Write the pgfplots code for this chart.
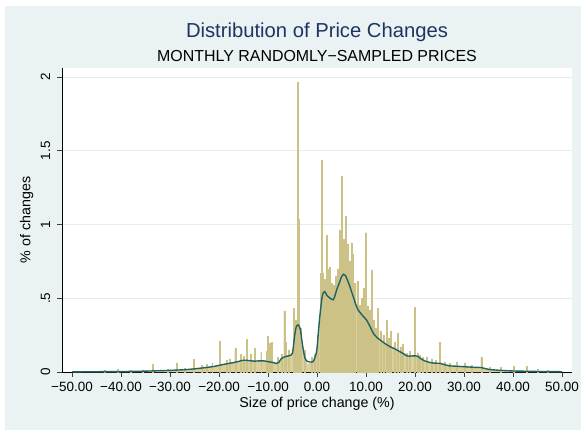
\documentclass[border=0pt]{standalone}
\usepackage{fontspec}
\setmainfont{Liberation Sans}
\usepackage{pgfplots}
\pgfplotsset{compat=1.18}
\definecolor{bgc}{RGB}{234,242,243}
\definecolor{gridc}{RGB}{228,238,239}
\definecolor{barc}{RGB}{217,208,158}
\definecolor{spkd}{RGB}{204,193,135}
\definecolor{dens}{RGB}{31,98,100}
\definecolor{titc}{RGB}{30,52,98}
\begin{document}
\begin{tikzpicture}[x=1bp,y=1bp]
\fill[white] (0,0) rectangle (581,429);
\fill[bgc] (5,-10) rectangle (600,422.5);
\node[anchor=base, text=titc, inner sep=0pt, font=\fontsize{20.3}{24}\selectfont] at (317,391) {Distribution of Price Changes};
\node[anchor=base, inner sep=0pt, font=\fontsize{16}{19}\selectfont] at (317,368) {MONTHLY RANDOMLY−SAMPLED PRICES};
\begin{axis}[
  at={(62bp,57bp)}, anchor=south west, scale only axis,
  width=510bp, height=304bp,
  xmin=-52.04, xmax=52.04, ymin=0, ymax=2.062,
  axis background/.style={fill=white},
  axis x line*=bottom, axis y line*=left,
  axis line style={black, line width=0.8pt, -},
  tick align=outside, major tick length=5bp,
  tick style={black!75, line width=0.8pt},
  xtick={-50,-40,-30,-20,-10,0,10,20,30,40,50},
  xticklabels={−50.00,−40.00,−30.00,−20.00,−10.00,0.00,10.00,20.00,30.00,40.00,50.00},
  ytick={0,0.5,1,1.5,2},
  yticklabels={0,.5,1,1.5,2},
  ymajorgrids, grid style={gridc, line width=0.8pt},
  xticklabel style={font=\fontsize{13.5}{16}\selectfont, inner sep=0pt, anchor=base, yshift=-14.7bp},
  yticklabel style={font=\fontsize{13.5}{16}\selectfont, inner sep=0pt, xshift=-7bp, rotate=90, anchor=base},
  xlabel={Size of price change (\%)},
  ylabel={\% of changes},
  every axis x label/.style={at={(axis description cs:0.5,-0.1174)}, anchor=base, inner sep=0pt, font=\fontsize{14.3}{17}\selectfont},
  every axis y label/.style={at={(axis description cs:-0.0618,0.5)}, rotate=90, anchor=base, inner sep=0pt, font=\fontsize{14.3}{17}\selectfont},
]
% histogram body
\addplot[fill=barc, draw=none] table {
x y
-50 0
-48 0.002
-44 0.003
-40 0.004
-36 0.006
-34 0.008
-32 0.010
-30 0.012
-28 0.015
-26 0.020
-25 0.024
-24 0.028
-23 0.030
-22 0.035
-21 0.040
-20 0.048
-19 0.055
-18 0.060
-17 0.066
-16 0.072
-15 0.082
-14 0.080
-13 0.078
-12 0.080
-11 0.078
-10 0.072
-9 0.068
-8.5 0.062
-8 0.060
-7.5 0.070
-7 0.095
-6.5 0.110
-6 0.110
-5.5 0.115
-5 0.120
-4.6 0.200
-4.3 0.300
-4.0 0.340
-3.7 0.330
-3.4 0.280
-3.1 0.200
-2.8 0.130
-2.5 0.085
-2.2 0.065
-1.8 0.055
-1.4 0.060
-1.0 0.065
-0.6 0.070
-0.3 0.100
0 0.160
0.3 0.300
0.6 0.420
0.9 0.500
1.2 0.560
1.5 0.550
1.8 0.530
2.1 0.550
2.4 0.500
2.7 0.520
3.0 0.490
3.3 0.500
3.6 0.530
3.9 0.560
4.2 0.600
4.5 0.620
4.8 0.660
5.1 0.670
5.4 0.690
5.7 0.660
6.0 0.640
6.3 0.620
6.6 0.600
6.9 0.570
7.2 0.530
7.5 0.520
7.8 0.470
8.1 0.450
8.4 0.430
8.7 0.420
9.0 0.410
9.3 0.390
9.6 0.380
9.9 0.370
10.3 0.350
10.7 0.330
11.1 0.300
11.5 0.270
12 0.250
12.5 0.230
13 0.220
13.5 0.200
14 0.195
14.5 0.185
15 0.175
15.5 0.165
16 0.160
16.5 0.150
17 0.140
17.5 0.130
18 0.115
18.5 0.110
19 0.110
19.5 0.112
20 0.115
20.5 0.105
21 0.095
21.5 0.085
22 0.078
23 0.068
24 0.062
25 0.060
26 0.052
27 0.045
28 0.042
30 0.038
32 0.033
34 0.028
35 0.020
37 0.013
40 0.008
43 0.006
46 0.004
50 0.002
50.1 0
} \closedcycle;
% individual spikes
\addplot[ybar, bar width=0.2, fill=barc, draw=spkd, line width=0.3pt] table {
x y
-43.3 0.012
-40.6 0.022
-38 0.010
-35.5 0.012
-33.5 0.054
-30.5 0.020
-28.6 0.063
-27 0.025
-25.1 0.086
-23.5 0.045
-22.5 0.050
-21.4 0.060
-19.9 0.206
-18.5 0.080
-17.8 0.090
-16.7 0.165
-15.6 0.120
-14.9 0.110
-14.35 0.220
-13.5 0.120
-12.65 0.160
-11.4 0.138
-10.3 0.140
-10.07 0.244
-9.6 0.195
-9.25 0.200
-8.0 0.100
-7.3 0.120
-6.7 0.416
-6.4 0.200
-5.8 0.150
-4.76 0.432
-4.3 0.350
-3.88 1.963
-3.65 1.038
-3.3 0.300
-2.6 0.150
-1.1 0.100
-0.4 0.120
0.2 0.250
0.75 0.670
0.95 1.434
1.16 0.670
1.5 0.630
1.97 0.930
2.2 0.700
2.65 0.714
3.0 0.600
3.47 0.590
3.9 0.650
4.3 0.700
4.7 0.963
4.83 0.800
5.04 1.330
5.25 0.880
5.45 0.900
5.92 1.054
6.26 0.870
6.6 0.750
7.07 0.877
7.3 0.800
7.7 0.600
8.2 0.613
8.7 0.454
9.1 0.500
9.46 0.567
9.93 0.945
10.4 0.450
10.8 0.420
11.16 0.692
11.6 0.350
12.0 0.300
12.45 0.430
12.9 0.280
13.5 0.250
14.2 0.353
14.6 0.230
15.1 0.280
15.8 0.200
16.55 0.262
17.05 0.170
17.55 0.190
18.2 0.130
19.0 0.140
20.0 0.440
20.6 0.130
21.0 0.115
21.6 0.100
22.3 0.100
23.4 0.090
24.2 0.080
25.1 0.200
26 0.070
27 0.060
28.5 0.068
30.1 0.063
31.5 0.045
33.5 0.100
35.3 0.036
37.5 0.030
40.2 0.040
42.7 0.040
45 0.020
47 0.015
};
% kernel density
\addplot[dens, line width=1.4pt, smooth, tension=0.35] table {
x y
-50 0.001
-45 0.002
-40 0.003
-35 0.006
-32 0.009
-30 0.011
-28 0.014
-26 0.018
-24 0.025
-22 0.033
-21 0.038
-20 0.045
-19 0.052
-18 0.058
-17 0.064
-16 0.072
-15 0.080
-14 0.078
-13 0.074
-12 0.075
-11 0.076
-10 0.070
-9 0.065
-8.3 0.058
-7.8 0.065
-7.3 0.090
-6.5 0.104
-5.5 0.112
-5.0 0.130
-4.5 0.262
-4.2 0.310
-3.8 0.319
-3.4 0.290
-3.1 0.217
-2.8 0.150
-2.45 0.093
-2.0 0.072
-1.5 0.068
-0.8 0.070
-0.3 0.110
0.0 0.160
0.5 0.353
1.0 0.500
1.3 0.540
1.6 0.545
2.0 0.520
2.5 0.505
3.0 0.493
3.3 0.490
3.6 0.510
4.0 0.556
4.5 0.600
5.0 0.645
5.4 0.663
5.8 0.655
6.2 0.624
6.6 0.590
7.0 0.550
7.5 0.500
8.0 0.450
8.4 0.420
9.0 0.395
9.5 0.375
10.1 0.353
10.8 0.310
11.5 0.262
12.2 0.235
12.9 0.217
14.0 0.190
14.9 0.172
16.0 0.155
16.9 0.138
17.6 0.125
18.3 0.110
19.0 0.108
20.0 0.110
20.5 0.107
21.2 0.090
22.0 0.075
23 0.065
24 0.060
25 0.059
26 0.050
27 0.042
28 0.040
30 0.036
32 0.032
33.5 0.030
35 0.018
37 0.012
40 0.007
43 0.005
46 0.003
50 0.002
};
\end{axis}
\pgfresetboundingbox
\path[use as bounding box] (0,0) rectangle (581,429);
\end{tikzpicture}
\end{document}
